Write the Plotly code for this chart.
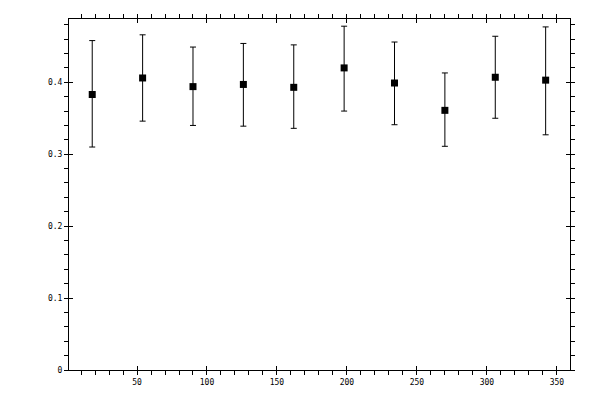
import plotly.graph_objects as go

# angle bins and measured values with asymmetric errors
x_vals = [18, 54, 90, 126, 162, 198, 234, 270, 306, 342]
y_vals = [0.383, 0.406, 0.394, 0.397, 0.393, 0.420, 0.399, 0.361, 0.407, 0.403]
y_upper = [0.458, 0.466, 0.449, 0.454, 0.452, 0.478, 0.456, 0.413, 0.464, 0.477]
y_lower = [0.310, 0.346, 0.340, 0.339, 0.336, 0.360, 0.341, 0.311, 0.350, 0.327]

err_plus = [u - y for u, y in zip(y_upper, y_vals)]
err_minus = [y - l for y, l in zip(y_vals, y_lower)]

x_range = [1.4, 359.4]
y_range = [0, 0.488]

fig = go.Figure()

fig.add_trace(go.Scatter(
    x=x_vals, y=y_vals,
    mode="markers",
    marker=dict(symbol="square", size=7, color="black"),
    error_y=dict(type="data", symmetric=False, array=err_plus, arrayminus=err_minus,
                 color="black", thickness=1, width=3),
    showlegend=False,
))

# dummy trace so the inner-tick axes get drawn
fig.add_trace(go.Scatter(x=[None], y=[None], xaxis="x2", yaxis="y2", showlegend=False))

font = dict(family="DejaVu Sans Mono", size=8, color="black")

# the page body has an 8px default margin, so margins are shifted to compensate
fig.update_layout(
    width=600, height=400,
    margin=dict(l=61, r=38, t=11, b=38),
    paper_bgcolor="white", plot_bgcolor="white",
    font=font,
    xaxis=dict(range=x_range, dtick=50, tick0=0, ticks="outside", ticklen=4, tickwidth=1,
               tickcolor="black", showline=True, linecolor="black", linewidth=1,
               mirror="ticks", showgrid=False, zeroline=False, tickfont=font, automargin=False,
               minor=dict(dtick=10, ticks="outside", ticklen=4, tickcolor="black", showgrid=False)),
    yaxis=dict(range=y_range, dtick=0.1, tick0=0, ticks="outside", ticklen=4, tickwidth=1,
               tickcolor="black", showline=True, linecolor="black", linewidth=1,
               mirror="ticks", showgrid=False, zeroline=False, tickfont=font, automargin=False,
               minor=dict(dtick=0.02, ticks="outside", ticklen=4, tickcolor="black", showgrid=False)),
    xaxis2=dict(range=x_range, dtick=50, tick0=0, ticks="inside", ticklen=4, tickwidth=1,
                tickcolor="black", overlaying="x", mirror="ticks", showticklabels=False,
                showgrid=False, zeroline=False, showline=False, automargin=False),
    yaxis2=dict(range=y_range, dtick=0.1, tick0=0, ticks="inside", ticklen=4, tickwidth=1,
                tickcolor="black", overlaying="y", mirror="ticks", showticklabels=False,
                showgrid=False, zeroline=False, showline=False, automargin=False),
)

fig.write_html("out.html")
